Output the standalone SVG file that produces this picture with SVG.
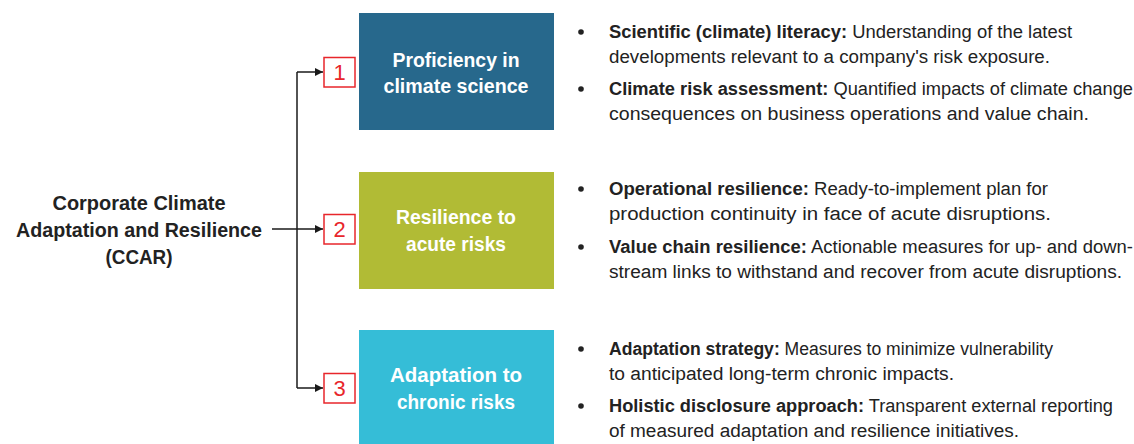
<svg xmlns="http://www.w3.org/2000/svg" width="1134" height="444" viewBox="0 0 1134 444">
  <defs>
    <marker id="arrow" viewBox="0 0 10 10" refX="10" refY="5" markerWidth="8" markerHeight="8" markerUnits="userSpaceOnUse" orient="auto">
      <path d="M0,0 L10,5 L0,10 z" fill="#1a1a1a"/>
    </marker>
    <style>
      .title { font-family: "Liberation Sans", Arial, sans-serif; font-weight: bold; font-size: 20px; fill: #222222; text-anchor: middle; }
      .boxlabel { font-family: "Liberation Sans", Arial, sans-serif; font-weight: bold; font-size: 20px; fill: #ffffff; text-anchor: middle; }
      .num { fill: #ffffff; stroke: #e8262b; stroke-width: 1.5; }
      .numtext { font-family: "Liberation Sans", Arial, sans-serif; font-size: 22px; fill: #e8262b; text-anchor: middle; }
      .body { font-family: "Liberation Sans", Arial, sans-serif; font-size: 18px; fill: #222222; }
      .body .b { font-weight: bold; }
      .dot { fill: #222222; }
      .conn { fill: none; stroke: #1a1a1a; stroke-width: 1.5; }
    </style>
  </defs>
  <rect width="1134" height="444" fill="#ffffff"/>

  <!-- root concept -->
  <g id="ccar">
    <text class="title" x="139" y="210" textLength="173" lengthAdjust="spacingAndGlyphs">Corporate Climate</text>
    <text class="title" x="139" y="237" textLength="246" lengthAdjust="spacingAndGlyphs">Adaptation and Resilience</text>
    <text class="title" x="139" y="264" textLength="67" lengthAdjust="spacingAndGlyphs">(CCAR)</text>
  </g>

  <!-- connectors -->
  <g id="connectors">
    <path class="conn" d="M297,72 V388"/>
    <path class="conn" d="M297,72 H323" marker-end="url(#arrow)"/>
    <path class="conn" d="M297,388 H323" marker-end="url(#arrow)"/>
    <path class="conn" d="M272,229 H323" marker-end="url(#arrow)"/>
  </g>

  <!-- pillar 1 -->
  <g id="pillar1">
    <rect class="num" x="324" y="57.5" width="31" height="29.5"/>
    <text class="numtext" x="339.5" y="80">1</text>
    <rect x="359" y="13" width="195" height="117" fill="#27688c"/>
    <text class="boxlabel" x="456" y="67" textLength="127" lengthAdjust="spacingAndGlyphs">Proficiency in</text>
    <text class="boxlabel" x="456" y="93" textLength="145" lengthAdjust="spacingAndGlyphs">climate science</text>
  </g>

  <!-- pillar 2 -->
  <g id="pillar2">
    <rect class="num" x="324" y="214.5" width="31" height="29.5"/>
    <text class="numtext" x="339.5" y="237">2</text>
    <rect x="359" y="172" width="195" height="117" fill="#b1bb35"/>
    <text class="boxlabel" x="456" y="224" textLength="120" lengthAdjust="spacingAndGlyphs">Resilience to</text>
    <text class="boxlabel" x="456" y="251" textLength="100" lengthAdjust="spacingAndGlyphs">acute risks</text>
  </g>

  <!-- pillar 3 -->
  <g id="pillar3">
    <rect class="num" x="324" y="373.5" width="31" height="29.5"/>
    <text class="numtext" x="339.5" y="396">3</text>
    <rect x="359" y="330" width="195" height="114" fill="#35bdd7"/>
    <text class="boxlabel" x="456" y="382" textLength="132" lengthAdjust="spacingAndGlyphs">Adaptation to</text>
    <text class="boxlabel" x="456" y="409" textLength="118" lengthAdjust="spacingAndGlyphs">chronic risks</text>
  </g>

  <!-- details for pillar 1 -->
  <g id="details1">
    <circle class="dot" cx="581" cy="32" r="2.8"/>
    <text class="body" x="609" y="38" textLength="463" lengthAdjust="spacingAndGlyphs"><tspan class="b">Scientific (climate) literacy:</tspan> Understanding of the latest</text>
    <text class="body" x="609" y="63" textLength="441" lengthAdjust="spacingAndGlyphs">developments relevant to a company's risk exposure.</text>
    <circle class="dot" cx="581" cy="89" r="2.8"/>
    <text class="body" x="609" y="95" textLength="524" lengthAdjust="spacingAndGlyphs"><tspan class="b">Climate risk assessment:</tspan> Quantified impacts of climate change</text>
    <text class="body" x="609" y="120" textLength="480" lengthAdjust="spacingAndGlyphs">consequences on business operations and value chain.</text>
  </g>

  <!-- details for pillar 2 -->
  <g id="details2">
    <circle class="dot" cx="581" cy="189" r="2.8"/>
    <text class="body" x="609" y="195" textLength="439" lengthAdjust="spacingAndGlyphs"><tspan class="b">Operational resilience:</tspan> Ready-to-implement plan for</text>
    <text class="body" x="609" y="220" textLength="442" lengthAdjust="spacingAndGlyphs">production continuity in face of acute disruptions.</text>
    <circle class="dot" cx="581" cy="247" r="2.8"/>
    <text class="body" x="609" y="253" textLength="524" lengthAdjust="spacingAndGlyphs"><tspan class="b">Value chain resilience:</tspan> Actionable measures for up- and down-</text>
    <text class="body" x="609" y="278" textLength="513" lengthAdjust="spacingAndGlyphs">stream links to withstand and recover from acute disruptions.</text>
  </g>

  <!-- details for pillar 3 -->
  <g id="details3">
    <circle class="dot" cx="581" cy="349" r="2.8"/>
    <text class="body" x="609" y="355" textLength="444" lengthAdjust="spacingAndGlyphs"><tspan class="b">Adaptation strategy:</tspan> Measures to minimize vulnerability</text>
    <text class="body" x="609" y="380" textLength="345" lengthAdjust="spacingAndGlyphs">to anticipated long-term chronic impacts.</text>
    <circle class="dot" cx="581" cy="406" r="2.8"/>
    <text class="body" x="609" y="412" textLength="504" lengthAdjust="spacingAndGlyphs"><tspan class="b">Holistic disclosure approach:</tspan> Transparent external reporting</text>
    <text class="body" x="609" y="437" textLength="410" lengthAdjust="spacingAndGlyphs">of measured adaptation and resilience initiatives.</text>
  </g>
</svg>
